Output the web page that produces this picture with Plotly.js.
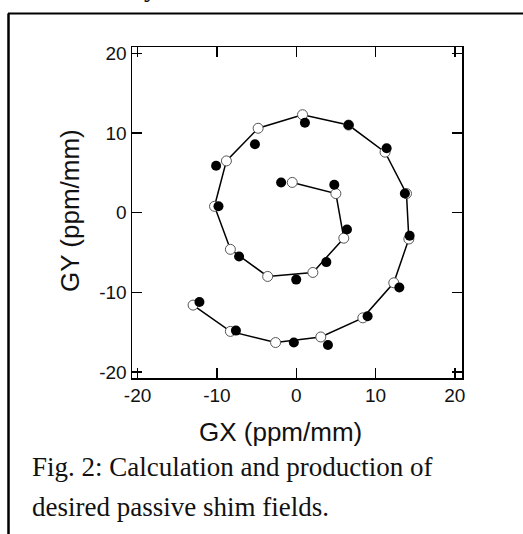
<!DOCTYPE html>
<html>
<head>
<meta charset="utf-8">
<script src="https://cdn.plot.ly/plotly-3.0.1.min.js"></script>
<style>html,body{margin:0;padding:0;background:#fff;}#chart{width:523px;height:534px;}</style>
</head>
<body>
<div id="chart"></div>
<script>
// Desired (calculated) gradient path, open circles joined by a line
const desiredGX = [-13.0, -8.3, -2.6, 3.1, 8.4, 12.3, 14.2, 13.9, 11.2, 6.6, 0.8, -4.8, -8.8, -10.3, -8.3, -3.6, 2.1, 6.0, 5.0, -0.5];
const desiredGY = [-11.6, -14.9, -16.3, -15.6, -13.2, -8.8, -3.3, 2.4, 7.6, 11.0, 12.3, 10.6, 6.5, 0.8, -4.6, -8.0, -7.5, -3.2, 2.4, 3.8];
// Produced (measured) gradients, filled circles
const producedGX = [-12.2, -7.6, -0.3, 4.0, 9.0, 13.0, 14.3, 13.7, 11.4, 6.6, 1.1, -5.2, -10.1, -9.8, -7.2, 0.0, 3.8, 6.4, 4.8, -1.9];
const producedGY = [-11.2, -14.8, -16.3, -16.6, -13.0, -9.4, -2.9, 2.4, 8.1, 11.0, 11.3, 8.6, 5.9, 0.8, -5.5, -8.4, -6.2, -2.1, 3.5, 3.8];
const tickValues = [-20, -10, 0, 10, 20];
const tickLabels = ['-20', '-10', '0', '10', '20'];
const xTitle = 'GX (ppm/mm)';
const yTitle = 'GY (ppm/mm)';
const captionLines = ['Fig. 2: Calculation and production of', 'desired passive shim fields.'];
const aboveFragment = 'y';

const sans = 'Liberation Sans, Arial, sans-serif';
const serif = 'Liberation Serif, Times New Roman, serif';

const traces = [
  {
    x: desiredGX, y: desiredGY, type: 'scatter', mode: 'lines+markers',
    line: {color: '#000', width: 1.5},
    marker: {symbol: 'circle', size: 10, color: '#fff', line: {color: '#555', width: 1}},
    hoverinfo: 'skip'
  },
  {
    x: producedGX, y: producedGY, type: 'scatter', mode: 'markers',
    marker: {symbol: 'circle', size: 10, color: '#000', line: {width: 0}},
    hoverinfo: 'skip'
  }
];

const axisCommon = {
  tickmode: 'array', tickvals: tickValues, ticktext: tickLabels,
  ticks: 'inside', ticklen: 10, tickwidth: 1.3, tickcolor: '#000',
  showline: true, linecolor: '#000', linewidth: 1.5, mirror: 'ticks',
  showgrid: false, zeroline: false,
  tickfont: {family: sans, size: 19, color: '#111'},
  fixedrange: true
};

// pixel -> paper helpers (plot area: x 132..462, y 47..378)
const px = v => (v - 132) / 330;
const py = v => (378 - v) / 331;

const layout = {
  width: 523, height: 534,
  margin: {l: 132, r: 61, t: 47, b: 156},
  paper_bgcolor: '#fff', plot_bgcolor: '#fff',
  showlegend: false,
  xaxis: Object.assign({}, axisCommon, {range: [-20.7, 20.9]}),
  yaxis: Object.assign({}, axisCommon, {range: [-20.75, 20.8]}),
  shapes: [
    {type: 'line', xref: 'paper', yref: 'paper', x0: px(8), x1: px(530), y0: py(13.5), y1: py(13.5), line: {color: '#000', width: 2}},
    {type: 'line', xref: 'paper', yref: 'paper', x0: px(8.5), x1: px(8.5), y0: py(13.5), y1: py(540), line: {color: '#000', width: 2.5}}
  ],
  annotations: [
    {text: xTitle, xref: 'paper', yref: 'paper', x: px(280), y: py(432), xanchor: 'center', yanchor: 'middle', showarrow: false, font: {family: sans, size: 26, color: '#111'}},
    {text: yTitle, xref: 'paper', yref: 'paper', x: px(70), y: py(211), xanchor: 'center', yanchor: 'middle', textangle: -90, showarrow: false, font: {family: sans, size: 26, color: '#111'}},
    {text: captionLines[0], xref: 'paper', yref: 'paper', x: px(30), y: py(467), xanchor: 'left', yanchor: 'middle', showarrow: false, font: {family: serif, size: 27, color: '#111'}},
    {text: captionLines[1], xref: 'paper', yref: 'paper', x: px(30), y: py(507), xanchor: 'left', yanchor: 'middle', showarrow: false, font: {family: serif, size: 27, color: '#111'}},
    {text: aboveFragment, xref: 'paper', yref: 'paper', x: px(151), y: py(-13), xanchor: 'center', yanchor: 'middle', showarrow: false, font: {family: serif, size: 27, color: '#111'}}
  ]
};

Plotly.newPlot('chart', traces, layout, {displayModeBar: false, staticPlot: true});
</script>
</body>
</html>
